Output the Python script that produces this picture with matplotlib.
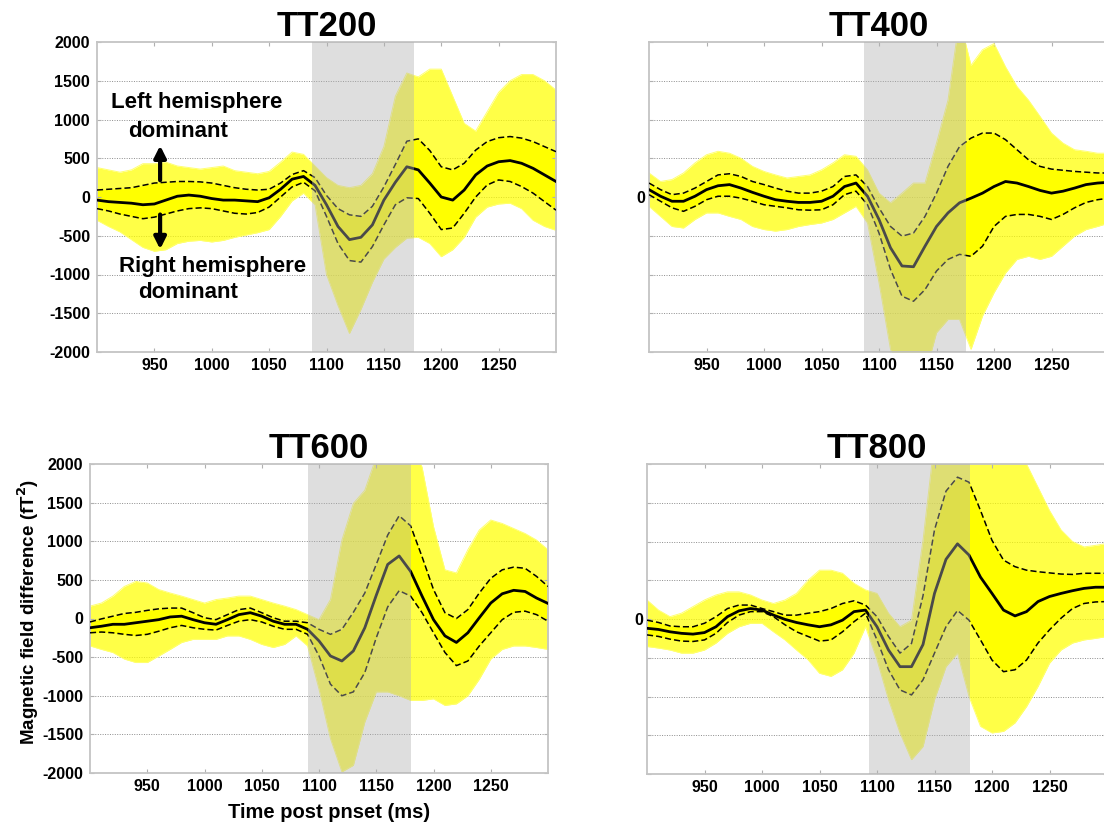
import numpy as np
import matplotlib.pyplot as plt

plt.rcParams['font.family'] = ['Liberation Sans', 'DejaVu Sans']
plt.rcParams['font.weight'] = 'bold'

# sample times (ms), one value every 10 ms
t_ms = np.arange(900, 1301, 10)

# TT200: grand mean, +/- SD (dashed) and the spread of single traces
tt200_mean = [-40, -60, -70, -80, -100, -90, -40, 10, 25, 10, -20, -40, -40, -50, -60, -10, 100, 230, 265, 150,
              -100, -380, -550, -520, -360, -40, 190, 390, 350, 180, 0, -40, 90, 285, 400, 455, 470, 435, 370, 285, 200]
tt200_upper = [90, 100, 110, 120, 150, 180, 190, 200, 200, 195, 180, 150, 120, 100, 90, 100, 180, 290, 340, 250,
               20, -150, -230, -250, -120, 130, 420, 720, 750, 600, 390, 350, 435, 605, 715, 765, 780, 760, 715, 650, 585]
tt200_lower = [-150, -180, -220, -250, -280, -260, -220, -180, -150, -140, -150, -180, -210, -220, -200, -130, 0, 130, 190, 80,
               -250, -600, -820, -840, -640, -360, -100, -10, -20, -210, -420, -400, -210, 0, 155, 220, 200, 135, 50, -60, -170]
tt200_hi = [380, 350, 320, 350, 430, 430, 450, 400, 380, 360, 380, 400, 340, 320, 300, 330, 450, 580, 550, 400,
            250, 150, 120, 150, 300, 650, 1300, 1600, 1550, 1650, 1650, 1300, 950, 850, 1100, 1350, 1500, 1580, 1580, 1500, 1380]
tt200_lo = [-300, -380, -450, -550, -650, -700, -680, -600, -570, -560, -580, -560, -520, -490, -460, -420, -250, -50, 50, -100,
            -1000, -1400, -1760, -1450, -1100, -800, -650, -530, -520, -600, -770, -680, -520, -260, -130, -90, -80, -150, -300, -380, -430]

# TT400
tt400_mean = [95, 10, -55, -55, 10, 95, 145, 160, 115, 60, 10, -35, -55, -70, -70, -55, 10, 135, 180, 10,
              -290, -655, -890, -900, -635, -380, -205, -75, -15, 50, 135, 200, 180, 135, 85, 50, 75, 115, 160, 180, 190]
tt400_upper = [180, 95, 30, 50, 115, 200, 285, 300, 265, 200, 160, 115, 75, 50, 50, 75, 135, 265, 285, 135,
               -140, -380, -505, -465, -250, 50, 395, 650, 760, 825, 825, 740, 610, 480, 395, 360, 345, 330, 320, 310, 310]
tt400_lower = [30, -55, -140, -185, -120, -35, 10, 10, -15, -55, -100, -120, -140, -165, -170, -165, -100, 30, 75, -100,
               -465, -935, -1280, -1345, -1195, -955, -805, -740, -765, -635, -380, -250, -225, -225, -250, -290, -225, -140, -70, -35, -15]
tt400_hi = [310, 200, 225, 310, 440, 545, 590, 565, 500, 395, 330, 285, 245, 265, 285, 350, 440, 545, 525, 350,
            50, -75, 50, 180, 180, 695, 1250, 2300, 1700, 1900, 1980, 1680, 1425, 1250, 1040, 825, 695, 610, 590, 565, 565]
tt400_lo = [-120, -250, -380, -400, -290, -205, -205, -250, -290, -380, -420, -440, -420, -380, -355, -335, -290, -205, -120, -335,
            -1105, -1965, -2300, -2300, -2300, -1750, -1580, -1580, -1965, -1535, -1235, -980, -805, -765, -805, -765, -635, -505, -420, -380, -335]

# TT600
tt600_mean = [-120, -100, -75, -75, -55, -35, -15, 20, 30, -15, -55, -75, -15, 50, 75, 30, -35, -75, -75, -140,
              -290, -485, -550, -420, -120, 300, 700, 810, 610, 290, -15, -225, -310, -185, 10, 200, 320, 365, 350, 265, 195]
tt600_upper = [-45, -5, 30, 65, 80, 105, 125, 135, 135, 75, 10, -15, 50, 115, 135, 75, 10, -35, -35, -55,
               -140, -205, -140, 80, 330, 700, 1080, 1330, 1200, 800, 375, 75, 0, 115, 330, 520, 630, 665, 650, 545, 415]
tt600_lower = [-185, -175, -185, -205, -220, -205, -165, -120, -90, -120, -140, -150, -90, -35, -15, -45, -100, -140, -140, -205,
               -485, -850, -1000, -950, -700, -250, 150, 360, 290, 75, -185, -440, -610, -550, -355, -185, -15, 80, 95, 50, -35]
tt600_hi = [160, 200, 290, 415, 480, 460, 375, 330, 290, 245, 200, 245, 265, 290, 290, 245, 200, 160, 115, 50,
            -15, 245, 1015, 1490, 1660, 2090, 2300, 2300, 2300, 1960, 1190, 630, 590, 890, 1145, 1275, 1230, 1165, 1100, 1015, 890]
tt600_lo = [-355, -400, -440, -525, -570, -570, -485, -400, -310, -270, -270, -270, -225, -225, -270, -335, -375, -335, -225, -355,
            -915, -1555, -1985, -1900, -1340, -950, -950, -1000, -1060, -1060, -1040, -1125, -1105, -1000, -785, -525, -400, -355, -355, -375, -400]

# TT800
tt800_mean = [-120, -135, -165, -185, -195, -175, -100, 30, 105, 135, 115, 50, -5, -45, -75, -100, -75, -15, 95, 115,
              -100, -400, -615, -615, -330, 330, 770, 970, 825, 540, 330, 115, 40, 95, 225, 290, 330, 365, 395, 410, 410]
tt800_upper = [-15, -45, -90, -100, -100, -55, 30, 135, 180, 180, 135, 95, 50, 50, 75, 95, 135, 200, 235, 180,
               30, -225, -440, -315, 300, 1150, 1650, 1830, 1765, 1400, 1015, 760, 675, 630, 610, 595, 580, 575, 590, 590, 590]
tt800_lower = [-205, -225, -260, -285, -290, -270, -185, -45, 50, 95, 95, 30, -75, -165, -225, -285, -270, -165, -35, 75,
               -270, -655, -915, -980, -785, -440, -100, 110, -15, -270, -530, -680, -655, -530, -310, -140, 10, 135, 200, 220, 225]
tt800_hi = [245, 115, 30, 75, 160, 245, 310, 350, 350, 310, 245, 200, 245, 330, 500, 630, 630, 590, 460, 375,
            330, 75, -100, -15, 1015, 2300, 2300, 2300, 2300, 2300, 2300, 2300, 2300, 2000, 1700, 1400, 1150, 1000, 930, 950, 975]
tt800_lo = [-355, -375, -400, -440, -440, -400, -310, -185, -100, -55, -55, -165, -270, -400, -525, -700, -740, -655, -440, -100,
            -525, -1040, -1470, -1815, -1645, -1040, -615, -440, -1000, -1385, -1470, -1450, -1340, -1130, -870, -570, -400, -310, -270, -250, -225]

# analysis window (ms) shaded in each condition
windows = {"TT200": (1087, 1176), "TT400": (1087, 1176), "TT600": (1090, 1180), "TT800": (1093, 1181)}

y_ticks = [-2000, -1500, -1000, -500, 0, 500, 1000, 1500, 2000]
x_ticks = [950, 1000, 1050, 1100, 1150, 1200, 1250]


def draw_panel(ax, name, mean, upper, lower, hi, lo, full_labels):
    ax.fill_between(t_ms, lo, hi, color="#ffff00", alpha=0.72, lw=0, zorder=1)
    ax.fill_between(t_ms, lower, upper, color="#ffff00", lw=0, zorder=1.5)
    ax.plot(t_ms, hi, color="#ffff70", lw=0.7, zorder=1.6)
    ax.plot(t_ms, lo, color="#ffff70", lw=0.7, zorder=1.6)
    ax.plot(t_ms, upper, color="black", lw=1.1, ls=(0, (4, 2)), zorder=3)
    ax.plot(t_ms, lower, color="black", lw=1.1, ls=(0, (4, 2)), zorder=3)
    ax.plot(t_ms, mean, color="black", lw=2.0, zorder=3)

    # grey window drawn over the traces
    w0, w1 = windows[name]
    ax.axvspan(w0, w1, color="#b2b2b2", alpha=0.42, lw=0, zorder=4)

    ax.set_xlim(900, 1300)
    ax.set_ylim(-2000, 2000)
    ax.set_xticks(x_ticks)
    ax.set_yticks(y_ticks)
    if full_labels:
        ax.set_yticklabels([str(v) for v in y_ticks])
    else:
        ax.set_yticklabels(["0" if v == 0 else "" for v in y_ticks])
    for v in y_ticks[1:-1]:
        ax.axhline(v, color="#8c8c8c", lw=0.7, ls=(0, (1, 1.5)), zorder=0.5)

    ax.tick_params(axis="both", direction="in", length=3, color="#b0b0b0",
                   labelsize=11.5, top=True, right=True)
    ax.tick_params(axis="y", pad=5 if full_labels else 3)
    ax.tick_params(axis="x", pad=4)
    for lab in ax.get_xticklabels() + ax.get_yticklabels():
        lab.set_fontweight("bold")
    for s in ax.spines.values():
        s.set_color("#c4c4c4")
        s.set_linewidth(1.3)
    ax.set_title(name, fontsize=25, fontweight="bold", pad=4)


fig = plt.figure(figsize=(11.04, 8.24), dpi=100)
W, H = 1104.0, 824.0

ax1 = fig.add_axes([97 / W, 1 - 352 / H, 459 / W, 310 / H])
ax2 = fig.add_axes([649 / W, 1 - 352 / H, 460 / W, 310 / H])
ax3 = fig.add_axes([90 / W, 1 - 773 / H, 458 / W, 309 / H])
ax4 = fig.add_axes([647 / W, 1 - 774 / H, 460 / W, 310 / H])

draw_panel(ax1, "TT200", tt200_mean, tt200_upper, tt200_lower, tt200_hi, tt200_lo, True)
draw_panel(ax2, "TT400", tt400_mean, tt400_upper, tt400_lower, tt400_hi, tt400_lo, False)
draw_panel(ax3, "TT600", tt600_mean, tt600_upper, tt600_lower, tt600_hi, tt600_lo, True)
draw_panel(ax4, "TT800", tt800_mean, tt800_upper, tt800_lower, tt800_hi, tt800_lo, False)

# hemisphere dominance notes on the first panel
note = dict(ha="center", va="center", fontsize=16, fontweight="bold", zorder=6)
ax1.text(987, 1213, "Left hemisphere", **note)
ax1.text(971, 839, "dominant", **note)
ax1.text(1001, -903, "Right hemisphere", **note)
ax1.text(979, -1238, "dominant", **note)
arrow = dict(arrowstyle="-|>,head_length=0.7,head_width=0.35", color="black", lw=3)
ax1.annotate("", xy=(955, 700), xytext=(955, 180), arrowprops=arrow, zorder=6)
ax1.annotate("", xy=(955, -710), xytext=(955, -190), arrowprops=arrow, zorder=6)

fig.text(28 / W, 1 - 612 / H, "Magnetic field difference (fT$^2$)", rotation=90,
         ha="center", va="center", fontsize=13.5, fontweight="bold")
fig.text(329 / W, 1 - 812 / H, "Time post pnset (ms)", ha="center", va="center",
         fontsize=14.5, fontweight="bold")

fig.savefig("out.png", dpi=100)
